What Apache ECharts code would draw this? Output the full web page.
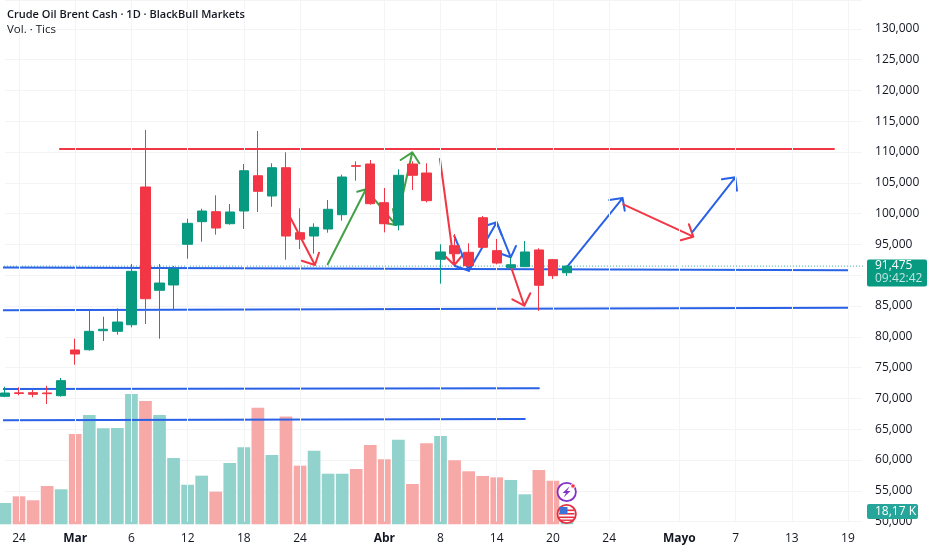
<!DOCTYPE html>
<html>
<head>
<meta charset="utf-8">
<style>html,body{margin:0;padding:0;background:#fff}#c{width:932px;height:550px}</style>
<script src="https://cdn.jsdelivr.net/npm/echarts@6/dist/echarts.min.js"></script>
</head>
<body>
<div id="c"></div>
<script>
const xLabels = ['','24','','','','Mar','','','','6','','','','12','','','','18','','','','24','','','','','','Abr','','','','8','','','','14','','','','20','','','','24','','','','','Mayo','','','','7','','','','13','','','','19',''];
const boldLabels = ['Mar','Abr','Mayo'];
const opens  = [70340,70900,70930,70880,70440,77860,77900,80990,80890,81960,104320,87550,88410,95020,98690,100310,98360,100420,106150,102860,107450,96900,96360,97500,99820,107780,108050,101770,98150,108050,106590,92580,94790,93720,99330,93980,91220,91380,94100,92520,90400];
const closes = [70876,70800,70670,70770,72880,77210,80890,81220,82400,90630,86180,88730,91010,98420,100420,97660,100260,106960,103620,107450,96360,95840,97780,100700,105940,107680,101610,98360,106220,106220,102100,93770,93490,91540,94530,91980,91700,93770,88360,89920,91475];
const lows   = [70200,70500,70170,69100,70280,75470,77740,79320,80340,81540,82080,79690,84350,92680,95440,96580,98200,97500,100260,101120,92520,94250,93490,96900,98850,105340,101440,96960,97290,103830,101830,88620,91660,91380,94420,91770,91170,91340,84190,89380,89870];
const highs  = [71900,71800,71360,72060,73310,79700,84240,83260,84620,91820,113570,91820,91500,99170,100800,102970,101560,108050,113410,108170,109950,100860,98430,102210,106320,108490,108700,104160,107190,108500,108170,95020,96690,95180,99610,95880,93000,95550,94370,92630,91600];
const volumes = [29.6,38.9,33.4,53.2,48.7,125.5,151.9,133.4,133.9,181.1,171.4,151.9,92.2,55,67.6,45.3,85.2,107,162,96.3,150,81.5,102.3,70.3,70.3,76.9,110.2,90.4,117.6,56,112.6,122.7,89,73.7,67.1,65.3,61.6,41.7,75.5,60.6,18.17];
const priceAxis = {min:50000,max:134676,step:5000,lastLabel:130000};
const lastPrice = 91475;

const redLevel = [[3.91,110490],[59.0,110490]];
const blueLevel1 = [[-0.5,91250],[60.0,90800]];
const blueLevel2 = [[-0.5,84300],[60.0,84720]];
const blueLevel3 = [[-0.5,71525],[38.0,71640]];
const blueLevel4 = [[-0.5,66440],[37.0,66650]];

const redArrow1 = [[20.28,99497],[22.06,91656],[21.12,92354],[22.06,91656],[22.35,93652]];
const greenArrow1 = [[22.97,91769],[25.69,103945],[25.07,103555],[25.69,103945],[25.98,102695]];
const greenArrow2 = [[25.69,103945],[27.83,98149],[26.69,98636],[27.83,98149],[27.62,100747]];
const greenArrow3 = [[27.83,98149],[28.99,109951],[28.16,108701],[28.99,109951],[29.49,108166]];
const redArrow2 = [[30.96,108864],[31.98,91656],[31.37,93003],[31.98,91656],[32.58,93279]];
const blueArrow1 = [[31.98,96363],[33.02,90730],[32.03,91493],[33.02,90730],[33.15,92191]];
const blueArrow2 = [[33.02,90730],[35.0,98588],[34.38,98149],[35.0,98588],[35.35,96526]];
const blueArrow3 = [[35.0,98588],[36.0,92905],[35.35,93441],[36.0,92905],[36.37,94740]];
const redArrow3 = [[36.01,91380],[36.96,85048],[36.11,86087],[36.96,85048],[37.39,87061]];
const blueArrow4 = [[39.98,91282],[43.96,102532],[43.01,102208],[43.96,102532],[44.11,100471]];
const redArrow4 = [[44.01,101510],[48.99,96250],[48.09,95665],[48.99,96250],[48.68,98263]];
const blueArrow5 = [[48.95,97062],[51.98,105893],[51.03,105568],[51.98,105893],[52.1,103717]];

const UP='#089981', DOWN='#f23645', UPV='#92d2cc', DOWNV='#f7a9a7', BLUE='#2962e6', RED2='#f23645', GREEN2='#43a047', FONT='"Open Sans","Noto Sans",sans-serif';
const N = xLabels.length;
const candles = opens.map((o,i)=>[o,closes[i],lows[i],highs[i]]);
const volData = volumes.map((v,i)=>({value:v,itemStyle:{color:closes[i]>=opens[i]?UPV:DOWNV}}));
const drawing = (data,color,w)=>({type:'line',xAxisIndex:1,yAxisIndex:0,data,showSymbol:false,symbol:'none',silent:true,z:3,lineStyle:{color,width:w||2,cap:'round',join:'round'},clip:false});
const gridX = xLabels.map((l,i)=>l?i:null).filter(v=>v!==null);

const chart = echarts.init(document.getElementById('c'),null,{renderer:'canvas'});
chart.setOption({
  animation:false,
  backgroundColor:'#fff',
  title:[
    {text:'Crude Oil Brent Cash · 1D · BlackBull Markets',left:7,top:8,padding:0,textStyle:{fontFamily:FONT,fontSize:11,fontWeight:600,color:'#131722',lineHeight:14}},
    {text:'Vol. · Tics',left:7,top:22.5,padding:0,textStyle:{fontFamily:FONT,fontSize:11.5,fontWeight:'normal',color:'#131722',lineHeight:14}}
  ],
  grid:[
    {left:4.975,width:(N-1)*14.05,top:0,height:521.6,show:false},
    {left:4.975,width:(N-1)*14.05,top:324.3,height:200,show:false}
  ],
  xAxis:[
    {type:'category',gridIndex:0,data:xLabels,show:false,boundaryGap:false},
    {type:'value',gridIndex:0,min:0,max:N-1,show:false,splitLine:{show:false}},
    {type:'category',gridIndex:1,data:xLabels,boundaryGap:false,axisLine:{show:false},axisTick:{show:false},splitLine:{show:false},
     axisLabel:{interval:0,margin:8,showMinLabel:true,showMaxLabel:true,fontFamily:FONT,fontSize:12,color:'#131722',
       formatter:v=>boldLabels.includes(v)?'{b|'+v+'}':v,
       rich:{b:{fontFamily:FONT,fontSize:12,fontWeight:'bold',color:'#131722'}}}}
  ],
  yAxis:[
    {type:'value',gridIndex:0,position:'right',min:priceAxis.min,max:priceAxis.max,interval:priceAxis.step,
     axisLine:{show:false},axisTick:{show:false},
     splitLine:{show:true,lineStyle:{color:'#f3f4f6',width:1}},
     axisLabel:{margin:13,fontFamily:FONT,fontSize:12,color:'#131722',showMaxLabel:true,
       formatter:v=>v>priceAxis.lastLabel?'':v.toLocaleString('en-US')}},
    {type:'value',gridIndex:1,min:0,max:278,show:false,splitLine:{show:false}}
  ],
  series:[
    {type:'line',xAxisIndex:1,yAxisIndex:0,data:[],silent:true,z:0,
     markLine:{silent:true,symbol:'none',animation:false,label:{show:false},lineStyle:{color:'#f3f4f6',width:1,type:'solid'},data:gridX.map(x=>({xAxis:x}))}},
    {type:'bar',xAxisIndex:2,yAxisIndex:1,data:volData,barWidth:12.7,z:1,silent:true,clip:false},
    {type:'line',xAxisIndex:1,yAxisIndex:0,data:[[-0.5,lastPrice],[61.4,lastPrice]],symbol:'none',silent:true,z:2,clip:false,lineStyle:{color:UP,width:1,type:[1,2],opacity:.8}},
    drawing(redLevel,RED2),drawing(blueLevel1,BLUE),drawing(blueLevel2,BLUE),drawing(blueLevel3,BLUE),drawing(blueLevel4,BLUE),
    drawing(redArrow1,RED2),drawing(greenArrow1,GREEN2),drawing(greenArrow2,GREEN2),drawing(greenArrow3,GREEN2),
    drawing(redArrow2,RED2),drawing(blueArrow1,BLUE),drawing(blueArrow2,BLUE),drawing(blueArrow3,BLUE),drawing(redArrow3,RED2),
    drawing(blueArrow4,BLUE),drawing(redArrow4,RED2),drawing(blueArrow5,BLUE),
    {type:'candlestick',xAxisIndex:0,yAxisIndex:0,data:candles,barWidth:9.8,z:5,silent:true,clip:false,
     itemStyle:{color:UP,color0:DOWN,borderColor:UP,borderColor0:DOWN,borderWidth:1}}
  ],
  graphic:[
    {type:'rect',z:100,shape:{x:867,y:259.5,width:60,height:27,r:2},style:{fill:UP}},
    {type:'text',z:101,style:{x:875,y:266,text:'91,475',fill:'#ffffff',font:'12px '+FONT,textVerticalAlign:'middle'}},
    {type:'text',z:101,style:{x:875,y:279,text:'09:42:42',fill:'#bfe6e1',font:'12px '+FONT,textVerticalAlign:'middle'}},
    {type:'rect',z:100,shape:{x:867,y:504,width:51,height:15,r:2},style:{fill:'#26a69a'}},
    {type:'text',z:101,style:{x:875,y:511.5,text:'18,17 K',fill:'#ffffff',font:'12px '+FONT,textVerticalAlign:'middle'}},
    {type:'circle',z:100,shape:{cx:566.7,cy:492,r:9.2},style:{fill:'#fff',stroke:'#8431c9',lineWidth:1.8}},
    {type:'polygon',z:101,shape:{points:[[569.5,486.5],[562.5,493],[566,493],[563.5,497.5],[570.5,491],[567,491]]},style:{fill:'#8431c9'}},
    {type:'circle',z:102,shape:{cx:573,cy:486,r:2.2},style:{fill:'#f23645',stroke:'#fff',lineWidth:.8}},
    {type:'circle',z:100,shape:{cx:566.7,cy:514,r:9.2},style:{fill:'#fff',stroke:'#e53040',lineWidth:1.8}},
    {type:'rect',z:101,shape:{x:559.5,y:509.5,width:14.5,height:1.6},style:{fill:'#e53040'}},
    {type:'rect',z:101,shape:{x:559,y:513,width:15.5,height:1.6},style:{fill:'#e53040'}},
    {type:'rect',z:101,shape:{x:559,y:516.5,width:15.5,height:1.6},style:{fill:'#e53040'}},
    {type:'rect',z:101,shape:{x:560,y:519.5,width:13.5,height:1.4},style:{fill:'#e53040'}},
    {type:'rect',z:102,shape:{x:559.5,y:507,width:8,height:7},style:{fill:'#3b73d6'}}
  ]
});
</script>
</body>
</html>
